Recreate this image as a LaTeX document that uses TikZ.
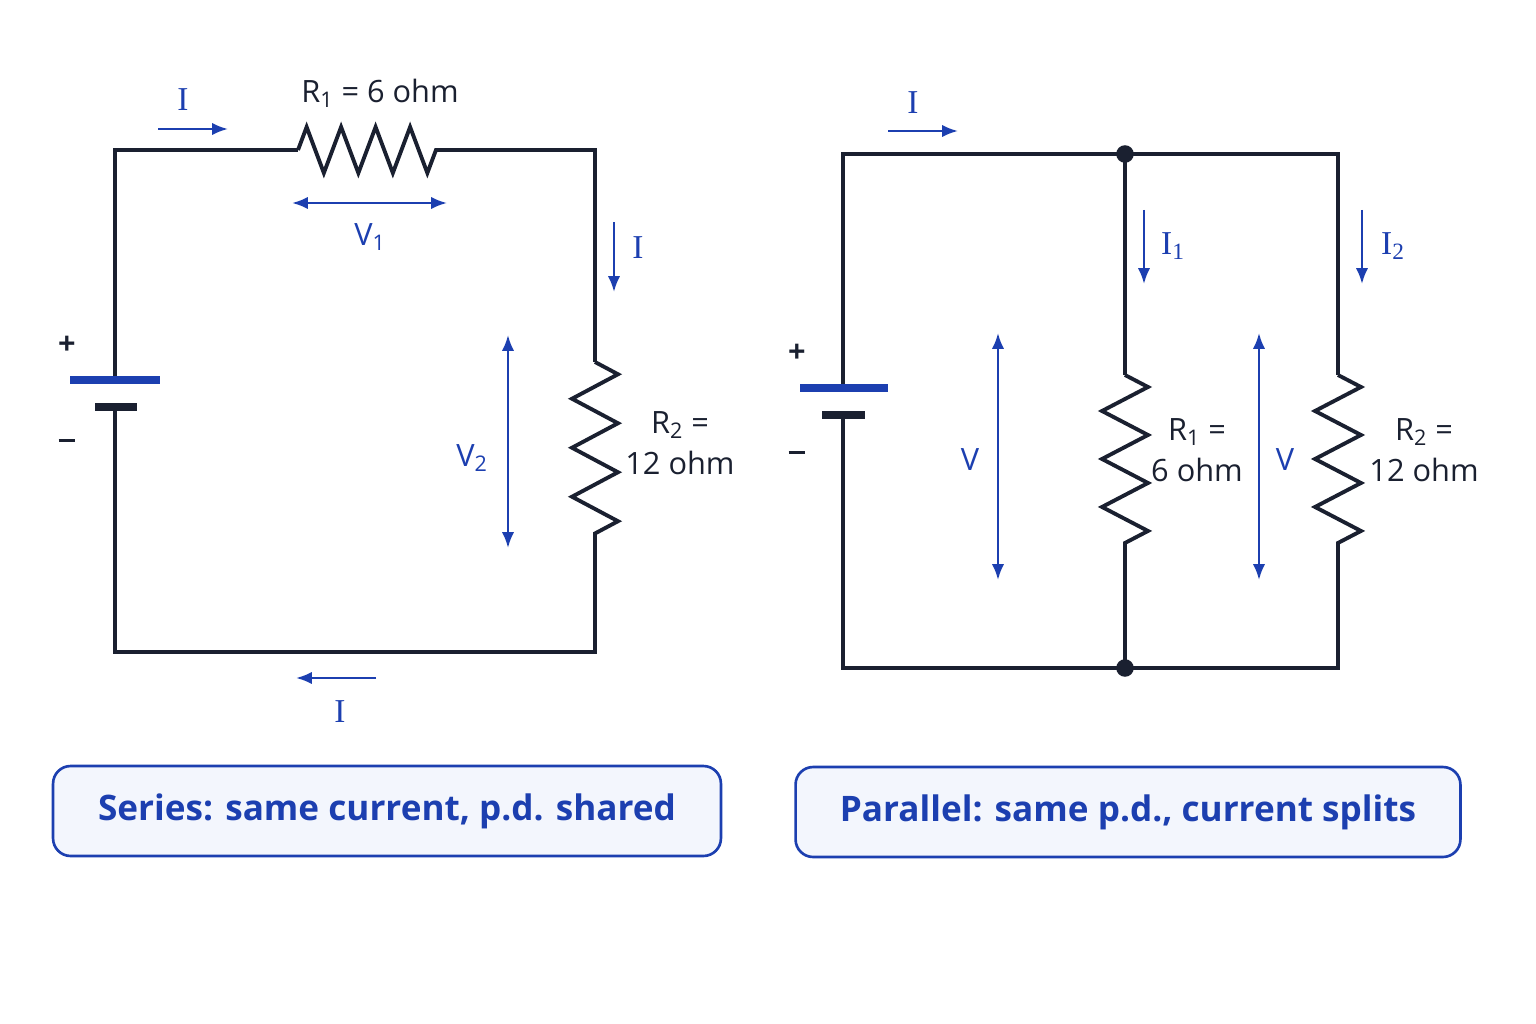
\documentclass[tikz,border=0pt]{standalone}
\usepackage{fontspec}
\setmainfont{Open Sans}
\newfontfamily\curfont{Liberation Serif}
\usetikzlibrary{decorations.pathmorphing,arrows.meta}

\definecolor{wirecol}{HTML}{1A2030}
\definecolor{bluecol}{HTML}{1C3FB0}
\definecolor{boxfill}{HTML}{F3F6FD}

\newcommand{\sub}[1]{\textsubscript{#1}}
\newcommand{\minussign}{\rule[0.3ex]{0.55em}{2.2pt}}

\tikzset{
  wire/.style={draw=wirecol, line width=2.2pt},
  resist/.style={wire, decorate, decoration={zigzag, amplitude=0.46cm, segment length=#1}},
  flow/.style={draw=bluecol, line width=1.4pt, -{Latex[length=9pt,width=7pt]}},
  pd/.style={draw=bluecol, line width=1.4pt, {Latex[length=9pt,width=7pt]}-{Latex[length=9pt,width=7pt]}},
  lbl/.style={text=wirecol, font=\fontsize{17.5}{19}\selectfont, inner sep=0pt, align=center},
  blbl/.style={text=bluecol, font=\fontsize{17.5}{19}\selectfont, inner sep=0pt},
  curr/.style={text=bluecol, font=\curfont\fontsize{19}{21}\selectfont, inner sep=0pt},
  caption/.style={draw=bluecol, line width=1.5pt, rounded corners=10pt, fill=boxfill,
    text=bluecol, font=\bfseries\fontsize{20}{24}\selectfont, minimum width=13.36cm, minimum height=1.8cm},
  dot/.style={circle, fill=wirecol, inner sep=0pt, minimum size=10pt}
}

\begin{document}
\begin{tikzpicture}[x=0.02cm, y=-0.02cm]
  \useasboundingbox[fill=white] (0,0) rectangle (1536,1024);

  % series circuit
  \coordinate (sTL) at (115,150);
  \coordinate (sTR) at (595,150);
  \coordinate (sBL) at (115,652);
  \coordinate (sBR) at (595,652);
  \coordinate (rOneA) at (298,150);
  \coordinate (rOneB) at (436,150);
  \coordinate (rTwoA) at (595,362);
  \coordinate (rTwoB) at (595,535);
  \coordinate (sBatP) at (115,380);
  \coordinate (sBatN) at (115,407);
  \draw[wire] (sBatP) -- (sTL) -- (rOneA);
  \draw[resist=0.69cm] (rOneA) -- (rOneB);
  \draw[wire] (rOneB) -- (sTR) -- (rTwoA);
  \draw[resist=0.98cm] (rTwoA) -- (rTwoB);
  \draw[wire] (rTwoB) -- (sBR) -- (sBL) -- (sBatN);
  \draw[draw=bluecol, line width=5pt] (70,380) -- (160,380);
  \draw[draw=wirecol, line width=4pt] (95,407) -- (137,407);
  \node[lbl] (sPlus) at (67,345) {\textbf{+}};
  \node[lbl] (sMinus) at (67,443) {\minussign};
  \node[lbl] (rOneLbl) at (380,93) {R\sub{1} = 6 ohm};
  \node[lbl] (rTwoLbl) at (680,443) {R\sub{2} =\\[4pt]12 ohm};

  \coordinate (iTopA) at (158,129);
  \coordinate (iTopB) at (228,129);
  \draw[flow] (iTopA) -- (iTopB);
  \node[curr] (iTop) at (183,100) {I};
  \coordinate (vOneA) at (292,203);
  \coordinate (vOneB) at (447,203);
  \draw[pd] (vOneA) -- (vOneB);
  \node[blbl] (vOne) at (370,237) {V\sub{1}};
  \coordinate (iRightA) at (614,222);
  \coordinate (iRightB) at (614,292);
  \draw[flow] (iRightA) -- (iRightB);
  \node[curr] (iRight) at (638,248) {I};
  \coordinate (vTwoA) at (508,335);
  \coordinate (vTwoB) at (508,548);
  \draw[pd] (vTwoA) -- (vTwoB);
  \node[blbl] (vTwo) at (472,458) {V\sub{2}};
  \coordinate (iBotA) at (376,678);
  \coordinate (iBotB) at (296,678);
  \draw[flow] (iBotA) -- (iBotB);
  \node[curr] (iBot) at (340,712) {I};

  % parallel circuit
  \coordinate (pTL) at (843,154);
  \coordinate (pBL) at (843,668);
  \coordinate (pTR) at (1338,154);
  \coordinate (pBR) at (1338,668);
  \node[dot] (jTop) at (1125,154) {};
  \node[dot] (jBot) at (1125,668) {};
  \coordinate (pOneA) at (1125,375);
  \coordinate (pOneB) at (1125,543);
  \coordinate (pTwoA) at (1338,375);
  \coordinate (pTwoB) at (1338,543);
  \coordinate (pBatP) at (843,388);
  \coordinate (pBatN) at (843,415);
  \draw[wire] (pBatP) -- (pTL) -- (jTop.center) -- (pTR) -- (pTwoA);
  \draw[wire] (pBatN) -- (pBL) -- (jBot.center) -- (pBR) -- (pTwoB);
  \draw[wire] (jTop.center) -- (pOneA);
  \draw[wire] (jBot.center) -- (pOneB);
  \draw[resist=0.96cm] (pOneA) -- (pOneB);
  \draw[resist=0.96cm] (pTwoA) -- (pTwoB);
  \draw[draw=bluecol, line width=5pt] (800,388) -- (888,388);
  \draw[draw=wirecol, line width=4pt] (822,415) -- (865,415);
  \node[lbl] (pPlus) at (797,353) {\textbf{+}};
  \node[lbl] (pMinus) at (797,455) {\minussign};
  \node[lbl] (pOneLbl) at (1197,450) {R\sub{1} =\\[4pt]6 ohm};
  \node[lbl] (pTwoLbl) at (1424,450) {R\sub{2} =\\[4pt]12 ohm};

  \coordinate (iInA) at (888,131);
  \coordinate (iInB) at (958,131);
  \draw[flow] (iInA) -- (iInB);
  \node[curr] (iIn) at (913,103) {I};
  \coordinate (iOneA) at (1144,210);
  \coordinate (iOneB) at (1144,284);
  \draw[flow] (iOneA) -- (iOneB);
  \node[curr] (iOne) at (1173,246) {I\sub{1}};
  \coordinate (iTwoA) at (1362,210);
  \coordinate (iTwoB) at (1362,284);
  \draw[flow] (iTwoA) -- (iTwoB);
  \node[curr] (iTwo) at (1393,246) {I\sub{2}};
  \coordinate (vLA) at (998,333);
  \coordinate (vLB) at (998,580);
  \draw[pd] (vLA) -- (vLB);
  \node[blbl] (vL) at (970,460) {V};
  \coordinate (vRA) at (1259,333);
  \coordinate (vRB) at (1259,580);
  \draw[pd] (vRA) -- (vRB);
  \node[blbl] (vR) at (1285,460) {V};

  % captions
  \node[caption] (serBox) at (387,811) {Series: same current, p.d. shared};
  \node[caption, minimum width=13.3cm] (parBox) at (1128,812) {Parallel: same p.d., current splits};
\end{tikzpicture}
\end{document}
